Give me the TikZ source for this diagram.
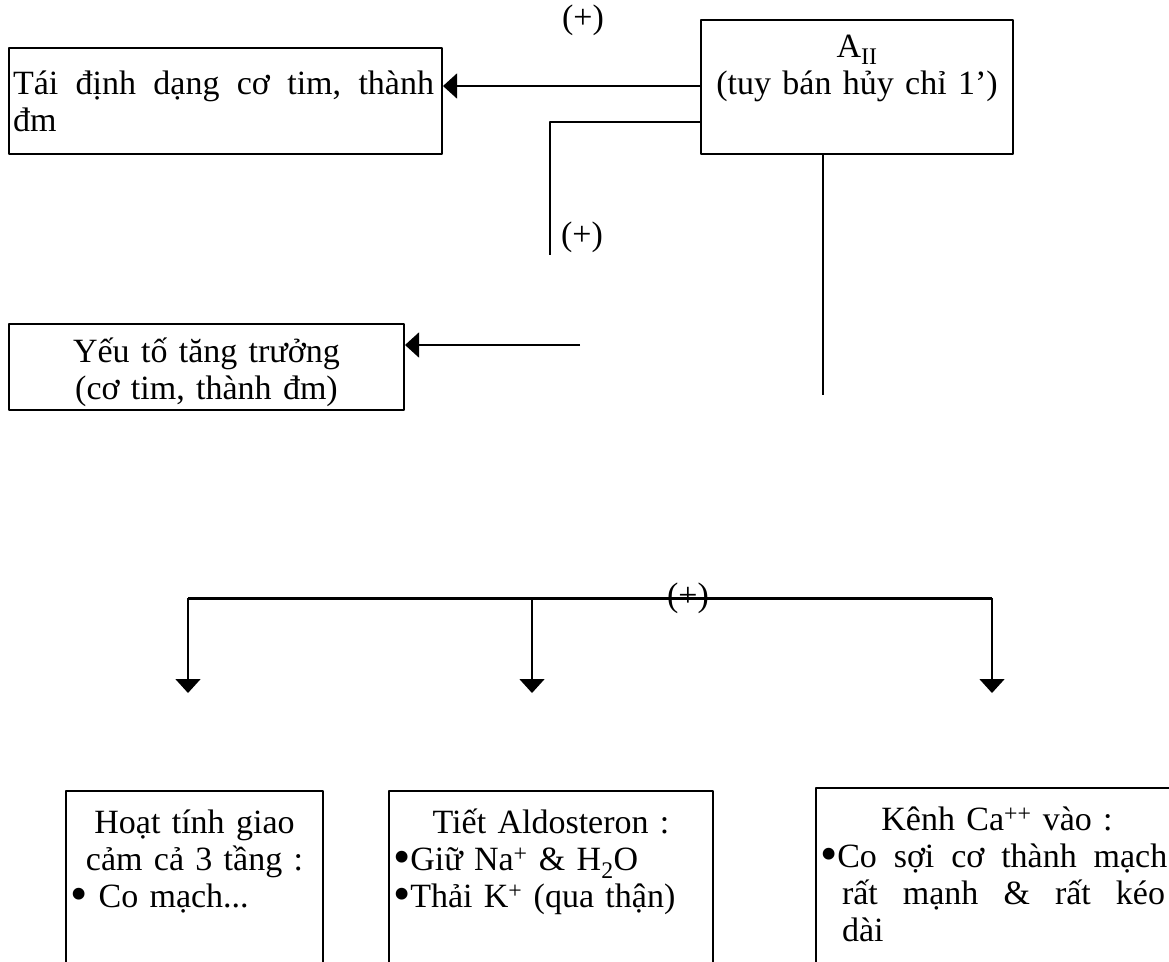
\documentclass[tikz,border=0pt]{standalone}
\usepackage{fontspec}
\setmainfont{Liberation Serif}
\usetikzlibrary{positioning}
\usetikzlibrary{arrows.meta}
\newcommand{\bul}{\smash{\raisebox{-3pt}{\scalebox{1.45}{\textbullet}}}}

\begin{document}
\begin{tikzpicture}[x=1pt, y=-1pt, line join=round,
    every node/.style={font=\fontsize{34}{37}\selectfont},
    box/.style={draw, line width=2pt, anchor=north west, inner xsep=4pt, inner ysep=0pt},
    link/.style={line width=1.6pt},
    arr/.style={link, -{Triangle[length=14pt, width=25pt]}},
    bus/.style={line width=3pt},
    sign/.style={inner sep=0pt}]
  \clip (0,0) rectangle (1169,961);
  % upper part
  \node[box, text width=304pt, minimum height=134pt, align=center] (ang) at (700,19)
    {\strut A\textsubscript{II}\\(tuy bán hủy chỉ 1’)\\\strut};
  \node[box, text width=425pt, minimum height=106pt, align=left] (remod) at (8,47)
    {\rule{0pt}{35pt}\hbox to 421pt{Tái\hfill định\hfill dạng\hfill cơ\hfill tim,\hfill thành}\\đm\strut};
  \node[box, text width=387pt, minimum height=84pt, align=center] (growth) at (8,323)
    {\rule{0pt}{38pt}Yếu tố tăng trưởng\\(cơ tim, thành đm)\strut};
  \node[sign] (p1) at (583,20) {(+)};
  \node[sign] (p2) at (582,237) {(+)};
  \coordinate (hook) at (550,255);
  \coordinate (gfin) at (580,345);
  \coordinate (trunk) at (823,395);
  \draw[arr] (ang.west |- 0,86) -- (remod.east |- 0,86);
  \draw[link] (ang.west |- 0,122) -| (hook);
  \draw[arr] (gfin) -- (growth.east |- gfin);
  \draw[link] (trunk |- ang.south) -- (trunk);
  % lower part
  \node[box, text width=249pt, inner ysep=17pt, align=center] (symp) at (65,790)
    {\strut Hoạt tính giao\\cảm cả 3 tầng :\\
     \makebox[249pt][l]{\bul\ Co mạch...}\\[160pt]~};
  \node[box, text width=316pt, inner ysep=17pt, align=center] (aldo) at (388,790)
    {\strut Tiết Aldosteron :\\
     \makebox[316pt][l]{\bul Giữ Na\textsuperscript{+} \& H\smash{\textsubscript{2}}O}\\
     \makebox[316pt][l]{\bul Thải K\textsuperscript{+} (qua thận)}\\[160pt]~};
  \node[box, text width=354pt, inner ysep=17pt, align=center] (calc) at (815,787)
    {\strut Kênh Ca\textsuperscript{++} vào :\\
     \makebox[354pt][l]{\bul\hbox to 330pt{Co\hfill sợi\hfill cơ\hfill thành\hfill mạch}}\\
     \makebox[354pt][l]{\hspace*{22pt}\hbox to 323pt{rất\hfill mạnh\hfill \&\hfill rất\hfill kéo}}\\
     \makebox[354pt][l]{\hspace*{22pt}dài}\\[100pt]~};
  \coordinate (bl) at (188,598);
  \coordinate (bm) at (532,598);
  \coordinate (br) at (992,598);
  \draw[bus] (bl) -- (br);
  \node[sign] (p3) at (688,598) {(+)};
  \draw[arr, shorten >=97pt] (bl) -- (bl |- symp.north);
  \draw[arr, shorten >=97pt] (bm) -- (bm |- aldo.north);
  \draw[arr, shorten >=94pt] (br) -- (br |- calc.north);
\end{tikzpicture}
\end{document}
